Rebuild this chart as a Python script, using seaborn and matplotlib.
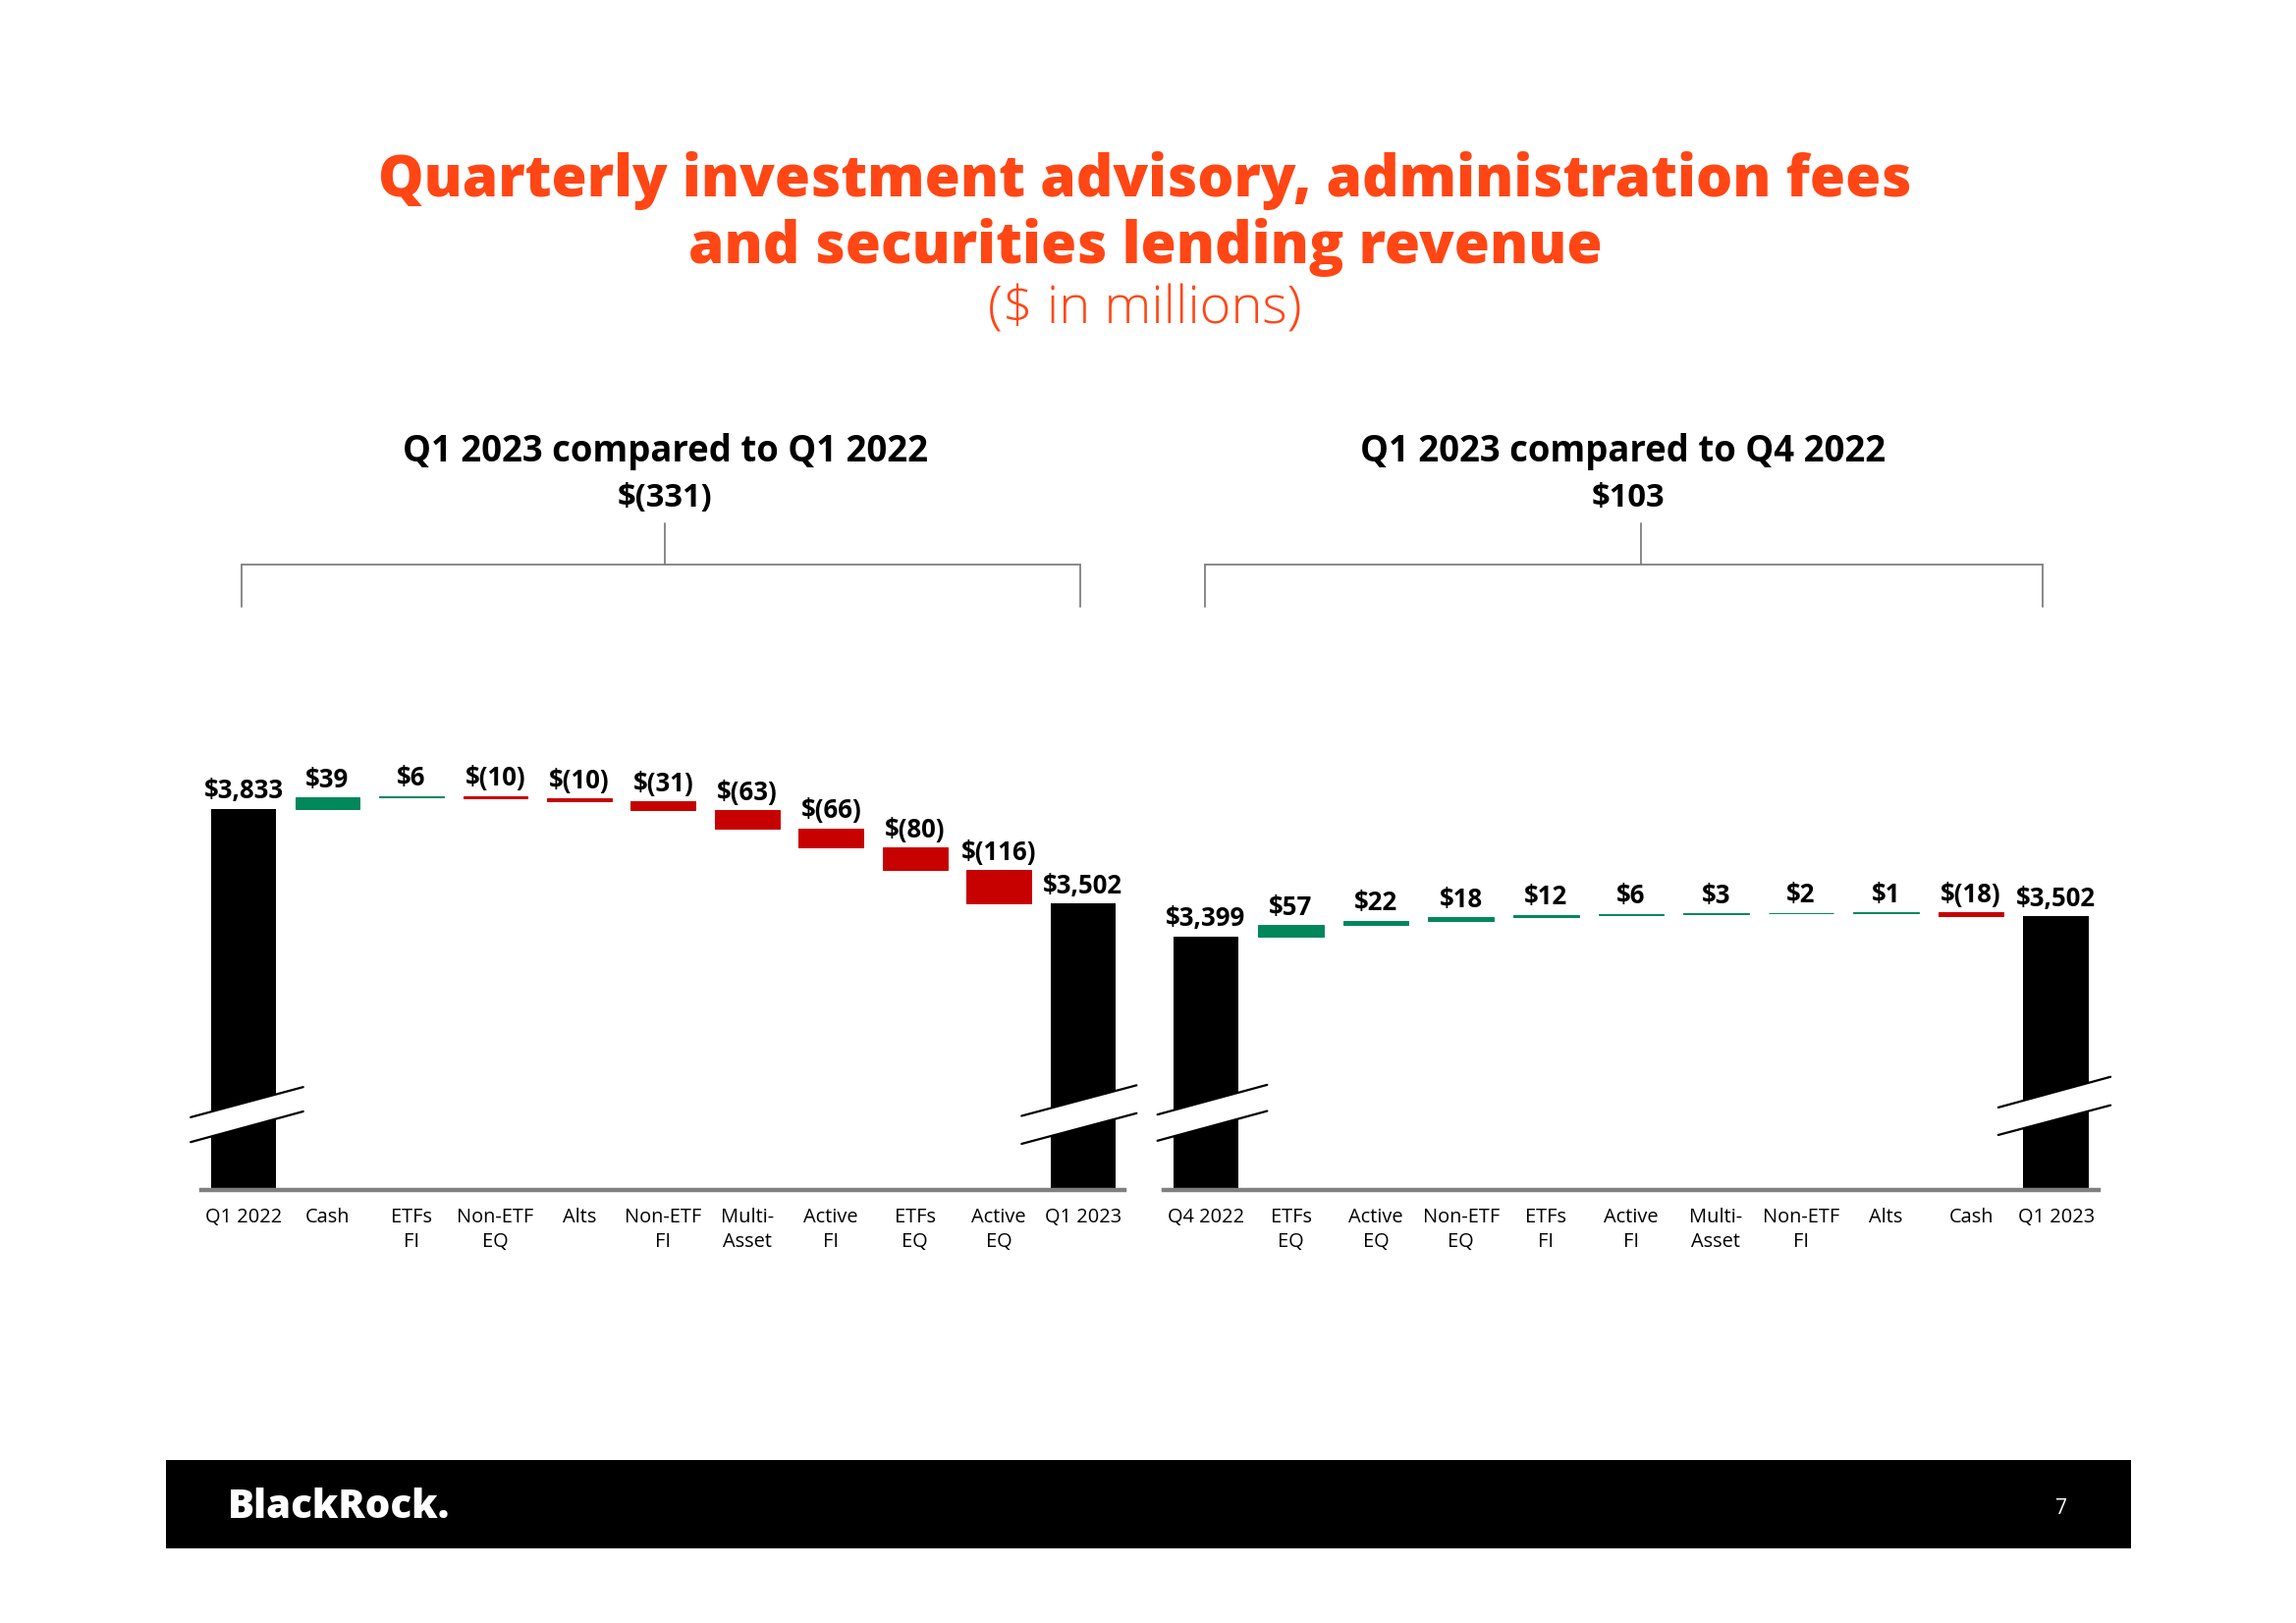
import numpy as np
import pandas as pd
import matplotlib
matplotlib.use("Agg")
import matplotlib.pyplot as plt
import seaborn as sns
from matplotlib.patches import Polygon, Rectangle
from matplotlib.lines import Line2D
import matplotlib.transforms as mtransforms

# ---------------- data ----------------
title_lines = ["Quarterly investment advisory, administration fees",
               "and securities lending revenue"]
subtitle = "($ in millions)"

left_header = "Q1 2023 compared to Q1 2022"
left_change = "$(331)"
left_cats = ["Q1 2022", "Cash", "ETFs\nFI", "Non-ETF\nEQ", "Alts", "Non-ETF\nFI",
             "Multi-\nAsset", "Active\nFI", "ETFs\nEQ", "Active\nEQ", "Q1 2023"]
left_start = 3833
left_deltas = [39, 6, -10, -10, -31, -63, -66, -80, -116]
left_end = 3502

right_header = "Q1 2023 compared to Q4 2022"
right_change = "$103"
right_cats = ["Q4 2022", "ETFs\nEQ", "Active\nEQ", "Non-ETF\nEQ", "ETFs\nFI", "Active\nFI",
              "Multi-\nAsset", "Non-ETF\nFI", "Alts", "Cash", "Q1 2023"]
right_start = 3399
right_deltas = [57, 22, 18, 12, 6, 3, 2, 1, -18]
right_end = 3502

footer_brand = "BlackRock."
page_number = "7"

# ---------------- style ----------------
sns.set_theme(style="white")
plt.rcParams['font.family'] = ['Open Sans', 'DejaVu Sans']

W, H = 2338, 1653
DPI = 100
ORANGE = "#FF4614"
GREEN = "#00875A"
RED = "#C70000"
GRAY = "#7F7F7F"


def fx(px):
    return px / W


def fy(py):
    return 1 - py / H


fig = plt.figure(figsize=(W / DPI, H / DPI), dpi=DPI)
fig.patch.set_facecolor("white")


def money(v, total=False):
    if total:
        return "${:,}".format(v)
    if v < 0:
        return "$({:,})".format(-v)
    return "${:,}".format(v)


def waterfall(ax, cats, start, deltas, end, ylim, brk):
    keys = [c.replace("\n", " ") for c in cats]
    totals = pd.DataFrame({"cat": [keys[0], keys[-1]], "value": [start, end]})
    sns.barplot(data=totals, x="cat", y="value", order=keys, color="black",
                width=0.77, saturation=1, ax=ax, edgecolor="none", zorder=2)
    deltas = np.array(deltas)
    cum = start + np.concatenate([[0], np.cumsum(deltas)[:-1]])
    xs = np.arange(1, len(deltas) + 1)
    cols = [GREEN if d > 0 else RED for d in deltas]
    ax.bar(xs, deltas, bottom=cum, width=0.77, color=cols, edgecolor=cols,
           linewidth=0.7, zorder=2)

    # value labels
    lab_kw = dict(ha="center", va="baseline", textcoords="offset points",
                  fontsize=18.5, fontweight="bold", color="black")
    ax.annotate(money(start, True), (0, start), xytext=(0, 7.5), **lab_kw)
    ax.annotate(money(end, True), (len(cats) - 1, end), xytext=(0, 7.5), **lab_kw)
    for x, c, d in zip(xs, cum, deltas):
        ax.annotate(money(int(d)), (x, max(c, c + d)), xytext=(0, 7.5), **lab_kw)

    ax.set_xlim(-0.5, len(cats) - 0.5)
    ax.set_ylim(*ylim)
    ax.set_yticks([])
    ax.set_xlabel("")
    ax.set_ylabel("")
    ax.set_xticks(range(len(cats)))
    ax.set_xticklabels(cats, fontsize=14.4, color="black", linespacing=1.32)
    ax.tick_params(axis="x", length=0, pad=13)
    for s in ["top", "left", "right"]:
        ax.spines[s].set_visible(False)
    ax.spines["bottom"].set_color(GRAY)
    ax.spines["bottom"].set_linewidth(3.2)
    ax.set_facecolor("none")

    # axis-break symbols
    trans = mtransforms.blended_transform_factory(ax.transData, ax.transAxes)
    for xc, (a, b, yul, yur, yll, ylr) in brk:
        poly = Polygon([(xc + a, yul), (xc + b, yur), (xc + b, ylr), (xc + a, yll)],
                       closed=True, facecolor="white", edgecolor="none",
                       transform=trans, clip_on=False, zorder=5)
        ax.add_patch(poly)
        ax.add_line(Line2D([xc + a, xc + b], [yul, yur], color="black", lw=1.6,
                           transform=trans, clip_on=False, zorder=6))
        ax.add_line(Line2D([xc + a, xc + b], [yll, ylr], color="black", lw=1.6,
                           transform=trans, clip_on=False, zorder=6))


# axes placement (pixels): baseline at y=1212, top at y=760
top_px, base_px = 760, 1212
axh = (base_px - top_px) / H

axL = fig.add_axes([fx(205.3), fy(base_px), fx(1145.4) - fx(205.3), axh])
axR = fig.add_axes([fx(1184.7), fy(base_px), fx(2137.0) - fx(1184.7), axh])

waterfall(axL, left_cats, left_start, left_deltas, left_end, (2503, 4051),
          [(0, (-0.63, 0.71, 0.164, 0.232, 0.108, 0.177)),
           (10, (-0.73, 0.64, 0.167, 0.236, 0.104, 0.173))])
waterfall(axR, right_cats, right_start, right_deltas, right_end, (2114, 4363),
          [(0, (-0.57, 0.72, 0.170, 0.237, 0.111, 0.178)),
           (10, (-0.68, 0.64, 0.186, 0.255, 0.124, 0.191))])

# ---------------- titles ----------------
t1 = fig.text(fx(1166), fy(200), title_lines[0], ha="center", va="baseline",
              fontsize=40, fontweight="heavy", color=ORANGE)
t2 = fig.text(fx(1166), fy(268), title_lines[1], ha="center", va="baseline",
              fontsize=40, fontweight="heavy", color=ORANGE)
t3 = fig.text(fx(1166), fy(329), subtitle, ha="center", va="baseline",
              fontsize=28, fontweight="light", color=ORANGE)

hL = fig.text(fx(677), fy(470), left_header, ha="center", va="baseline",
              fontsize=22.5, fontweight="bold", color="black")
cL = fig.text(fx(677), fy(516), left_change, ha="center", va="baseline",
              fontsize=20, fontweight="bold", color="black")
hR = fig.text(fx(1653), fy(470), right_header, ha="center", va="baseline",
              fontsize=22.5, fontweight="bold", color="black")
cR = fig.text(fx(1658), fy(516), right_change, ha="center", va="baseline",
              fontsize=20, fontweight="bold", color="black")

# fit widths to the reference
fig.canvas.draw()
rend = fig.canvas.get_renderer()


def fit(t, target):
    w = t.get_window_extent(rend).width
    t.set_fontsize(t.get_fontsize() * target / w)


fit(t1, 1558)
t2.set_fontsize(t1.get_fontsize())
fit(t3, 320)
fit(hL, 536)
fit(hR, 536)
fit(cL, 97)
cR.set_fontsize(cL.get_fontsize())

# brackets
def bracket(xl, xr, xm):
    kw = dict(color=GRAY, lw=1.3, transform=fig.transFigure)
    fig.add_artist(Line2D([fx(xm), fx(xm)], [fy(533), fy(575)], **kw))
    fig.add_artist(Line2D([fx(xl), fx(xr)], [fy(575), fy(575)], **kw))
    fig.add_artist(Line2D([fx(xl), fx(xl)], [fy(575), fy(618)], **kw))
    fig.add_artist(Line2D([fx(xr), fx(xr)], [fy(575), fy(618)], **kw))


bracket(246, 1100, 677)
bracket(1227, 2080, 1671)

# ---------------- footer ----------------
fig.add_artist(Rectangle((fx(169), fy(1577)), fx(2170) - fx(169), (1577 - 1487) / H,
                         transform=fig.transFigure, facecolor="black",
                         edgecolor="none", zorder=0))
fb = fig.text(fx(232), fy(1546), footer_brand, ha="left", va="baseline",
              fontsize=29, fontweight="heavy", color="white")
fig.text(fx(2099), fy(1542), page_number, ha="center", va="baseline",
         fontsize=15, color="white")

fig.savefig("out.png", dpi=DPI, facecolor="white")
